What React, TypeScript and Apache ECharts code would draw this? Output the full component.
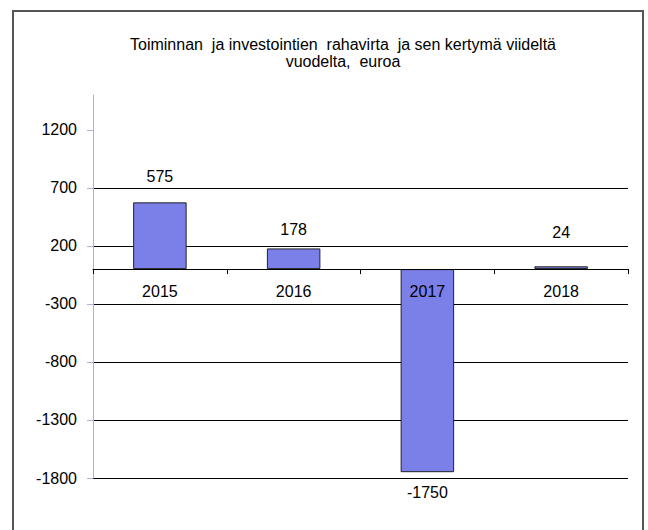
import React, { useEffect, useRef } from "react";
import * as echarts from "echarts";

const titleText = "Toiminnan  ja investointien  rahavirta  ja sen kertymä viideltä\nvuodelta,  euroa";
const categories = ["2015", "2016", "2017", "2018"];
const values = [575, 178, -1750, 24];
const yTicks = [-1800, -1300, -800, -300, 200, 700, 1200];
const yMin = -1800;
const yMax = 1500;
const yStep = 500;
const labelDistances = [18, 11, 12, 26];

const FONT = "'Liberation Sans', Arial, sans-serif";

export default function App() {
  const ref = useRef<HTMLDivElement>(null);
  useEffect(() => {
    if (!ref.current) return;
    const chart = echarts.init(ref.current, null, { renderer: "svg" });
    const gridTop = 95;
    const gridBottom = 52;
    const plotH = 530 - gridTop - gridBottom;
    // distance from the zero line to the bottom of the plot, used to place category labels next to the zero line
    const zeroToBottom = (plotH * (0 - yMin)) / (yMax - yMin);
    chart.setOption({
      animation: false,
      backgroundColor: "#ffffff",
      textStyle: { fontFamily: FONT },
      title: {
        text: titleText,
        left: 343,
        top: 36,
        padding: 0,
        textAlign: "center",
        textStyle: {
          fontFamily: FONT,
          fontSize: 16,
          fontWeight: "normal",
          color: "#000",
          lineHeight: 17,
        },
      },
      graphic: [
        {
          type: "rect",
          shape: { x: 13, y: 11, width: 630, height: 540 },
          style: { fill: "none", stroke: "#555", lineWidth: 2 },
          silent: true,
          z: 100,
        },
      ],
      grid: { left: 93, right: 20, top: gridTop, bottom: gridBottom, containLabel: false },
      xAxis: {
        type: "category",
        data: categories,
        z: 10,
        axisLine: { onZero: true, lineStyle: { color: "#000", width: 1 } },
        axisTick: { show: true, alignWithLabel: false, length: 5, lineStyle: { color: "#000" } },
        axisLabel: {
          color: "#000",
          fontSize: 16,
          fontFamily: FONT,
          margin: 14 - zeroToBottom,
        },
        splitLine: { show: false },
      },
      yAxis: {
        type: "value",
        min: yMin,
        max: yMax,
        interval: yStep,
        axisLine: { show: true, lineStyle: { color: "#b9acd9", width: 1 } },
        axisTick: { show: true, length: 6, customValues: yTicks, lineStyle: { color: "#b9acd9" } },
        axisLabel: {
          color: "#000",
          fontSize: 16,
          fontFamily: FONT,
          margin: 16,
          customValues: yTicks,
          formatter: (v: number) => String(v),
        },
        splitLine: { show: true, showMaxLine: false, lineStyle: { color: "#000", width: 1 } },
      },
      series: [
        {
          type: "bar",
          data: values.map((v, i) => ({
            value: v,
            label: { distance: labelDistances[i], position: v < 0 ? "bottom" : "top" },
          })),
          barWidth: "40%",
          itemStyle: { color: "#7b7fe8", borderColor: "#222", borderWidth: 1 },
          label: {
            show: true,
            position: "top",
            color: "#000",
            fontSize: 16,
            fontFamily: FONT,
          },
        },
      ],
    });
    return () => chart.dispose();
  }, []);
  return (
    <div
      ref={ref}
      style={{ position: "fixed", left: 0, top: 0, width: 648, height: 530, background: "#fff" }}
    />
  );
}
